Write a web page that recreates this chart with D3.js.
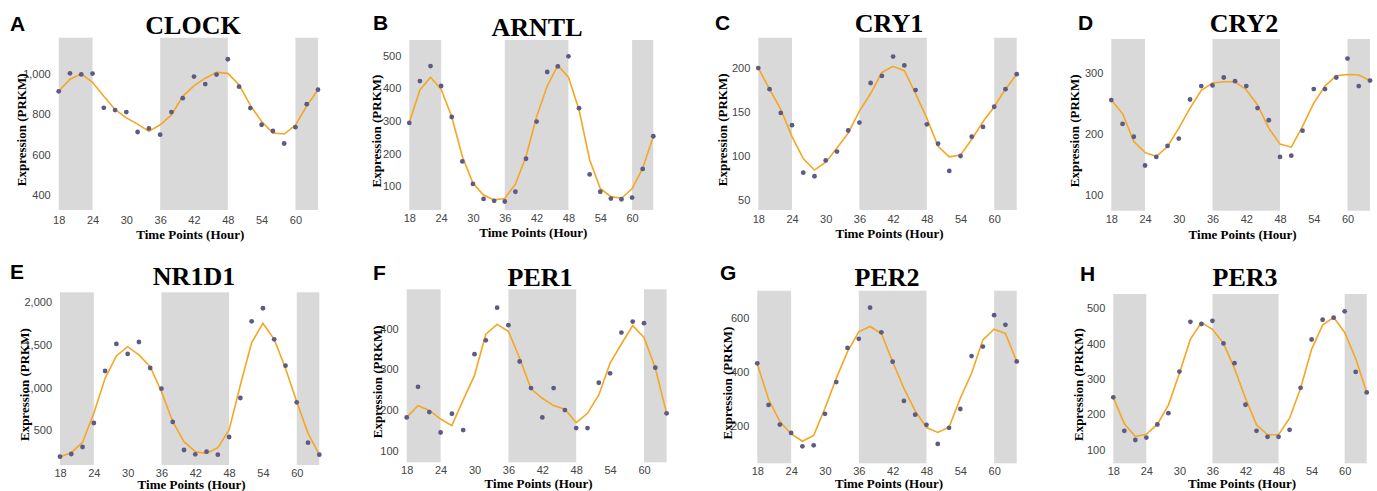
<html>
<head>
  <style>
    body { margin: 0; background: #fff; }
    svg { display: block; }
  </style>
</head>
<body>
  <svg width="1377" height="491"></svg>
  <script src="https://d3js.org/d3.v7.min.js"></script>
  <script>

  // time points, hours
  var hours = [18,20,22,24,26,28,30,32,34,36,38,40,42,44,46,48,50,52,54,56,58,60,62,64];
  var hourTicks = [18,24,30,36,42,48,54,60];
  // dark phases shaded in grey
  var darkBands = [[18,24],[36,48],[60,64]];

  var clockObs = [914,1003,998,1002,832,821,811,712,730,699,811,880,987,950,997,1073,937,831,748,717,655,736,850,922];
  var clockFit = [914,974,1000,959,889,824,782,751,715,748,797,889,941,979,1008,1003,946,844,764,707,702,746,841,922];
  var arntlObs = [294,422,468,407,312,176,107,61,55,53,83,184,298,450,467,498,339,136,83,62,60,65,153,253];
  var arntlFit = [295,395,434,397,313,191,109,73,58,62,106,191,313,407,470,434,334,181,93,68,63,92,155,252];
  var cry1Obs = [200,176,149,135,81,77,95,105,129,138,183,191,213,203,175,136,114,83,100,122,133,156,176,193];
  var cry1Fit = [200,176,153,122,97,84,93,109,126,151,171,195,202,197,171,143,111,99,101,119,139,156,176,193];
  var cry2Obs = [256,217,196,149,163,181,193,257,279,280,293,287,279,243,223,163,165,206,274,274,293,324,279,288];
  var cry2Fit = [256,234,188,170,164,180,210,243,272,284,286,286,273,248,210,184,179,213,251,279,296,298,297,288];
  var nr1d1Obs = [191,223,305,586,1195,1512,1395,1535,1230,988,598,270,219,250,215,422,879,1777,1930,1566,1258,828,355,215];
  var nr1d1Fit = [191,238,359,699,1109,1371,1480,1383,1246,953,602,367,250,230,297,504,1031,1527,1754,1566,1227,836,465,215];
  var per1Obs = [182,257,195,145,191,151,337,371,451,408,319,254,182,254,200,156,156,267,290,390,417,413,304,192];
  var per1Fit = [182,211,199,178,162,225,285,386,410,393,327,252,229,211,202,169,192,237,315,362,407,378,303,192];
  var per2Obs = [433,278,205,174,124,128,245,363,490,524,640,548,439,293,242,204,133,193,263,460,495,612,576,440];
  var per2Fit = [430,299,216,170,143,165,266,377,476,550,570,544,439,340,256,194,176,195,303,396,520,560,544,440];
  var per3Obs = [248,153,127,134,171,203,321,462,456,465,401,345,227,153,136,136,156,275,412,468,474,492,320,262];
  var per3Fit = [248,173,137,143,172,226,316,413,460,441,401,330,245,170,142,142,189,274,384,453,475,432,358,262];

  var panels = [
    {letter:"A", gene:"CLOCK", obs:clockObs, fit:clockFit, yDom:[325,1180], yTicks:[400,600,800,1000],
     x0:58.7, x1:318, top:37.7, bot:210, titleX:193, titleY:34, letX:10, letY:31, ytX:22, axY:235, pad:6},
    {letter:"B", gene:"ARNTL", obs:arntlObs, fit:arntlFit, yDom:[27,548], yTicks:[100,200,300,400,500],
     x0:409.3, x1:653.3, top:40, bot:210, titleX:537, titleY:36, letX:373, letY:30, ytX:377, axY:233, pad:4},
    {letter:"C", gene:"CRY1", obs:cry1Obs, fit:cry1Fit, yDom:[38.6,234.5], yTicks:[50,100,150,200],
     x0:758.3, x1:1016.7, top:37.7, bot:210, titleX:889, titleY:32, letX:715, letY:30, ytX:723, axY:233.5, pad:5},
    {letter:"D", gene:"CRY2", obs:cry2Obs, fit:cry2Fit, yDom:[75,356], yTicks:[100,200,300],
     x0:1111.3, x1:1370, top:39, bot:210.7, titleX:1244, titleY:32, letX:1078, letY:30, ytX:1075, axY:234.5, pad:5},
    {letter:"E", gene:"NR1D1", obs:nr1d1Obs, fit:nr1d1Fit, yDom:[94,2117], yTicks:[500,1000,1500,2000],
     x0:60, x1:319.3, top:292.3, bot:465, titleX:194, titleY:285, letX:10, letY:279, ytX:25, axY:485, pad:4},
    {letter:"F", gene:"PER1", obs:per1Obs, fit:per1Fit, yDom:[72,496], yTicks:[100,200,300,400],
     x0:406.7, x1:666.6, top:289.3, bot:462.3, titleX:540, titleY:286, letX:373, letY:280, ytX:378, axY:483.5, pad:4},
    {letter:"G", gene:"PER2", obs:per2Obs, fit:per2Fit, yDom:[61,703], yTicks:[200,400,600],
     x0:757.3, x1:1016.7, top:290.7, bot:463.3, titleX:887, titleY:286, letX:720, letY:280, ytX:728, axY:483.5, pad:4},
    {letter:"H", gene:"PER3", obs:per3Obs, fit:per3Fit, yDom:[61,541], yTicks:[100,200,300,400,500],
     x0:1113.3, x1:1366.7, top:294, bot:463.3, titleX:1245, titleY:286, letX:1080, letY:281, ytX:1079, axY:483.5, pad:4}
  ];

  var svg = d3.select("svg");
  var fmt = d3.format(",");

  panels.forEach(function(p) {
    var X = d3.scaleLinear().domain([18, 64]).range([p.x0, p.x1]);
    var Y = d3.scaleLinear().domain(p.yDom).range([p.bot, p.top]);
    var g = svg.append("g");

    g.selectAll("rect.band")
      .data(darkBands)
      .enter()
      .append("rect")
      .attr("x", function(d) {return X(d[0]);})
      .attr("width", function(d) {return X(d[1]) - X(d[0]);})
      .attr("y", p.top)
      .attr("height", p.bot - p.top)
      .style("fill", "#d9d9d9");

    var yAxis = d3.axisLeft(Y).tickValues(p.yTicks).tickFormat(fmt).tickSize(0).tickPadding(8);
    g.append("g")
      .attr("transform", "translate(" + p.x0 + ",0)")
      .call(yAxis)
      .call(function(a) {
        a.select(".domain").remove();
        a.selectAll("text").style("font-family", "Liberation Sans, Arial, sans-serif")
          .style("font-size", "11px").style("fill", "#444");
      });

    var xAxis = d3.axisBottom(X).tickValues(hourTicks).tickSize(0).tickPadding(p.pad);
    g.append("g")
      .attr("transform", "translate(0," + p.bot + ")")
      .call(xAxis)
      .call(function(a) {
        a.select(".domain").remove();
        a.selectAll("text").style("font-family", "Liberation Sans, Arial, sans-serif")
          .style("font-size", "11px").style("fill", "#444");
      });

    var line = d3.line()
      .x(function(d, i) {return X(hours[i]);})
      .y(function(d) {return Y(d);});

    g.append("path")
      .datum(p.fit)
      .attr("d", line)
      .style("fill", "none")
      .style("stroke", "#f5a623")
      .style("stroke-width", 1.6);

    g.selectAll("circle")
      .data(p.obs)
      .enter()
      .append("circle")
      .attr("cx", function(d, i) {return X(hours[i]);})
      .attr("cy", function(d) {return Y(d);})
      .attr("r", 2.4)
      .style("fill", "#5b5b85");

    g.append("text")
      .attr("x", p.titleX).attr("y", p.titleY)
      .attr("text-anchor", "middle")
      .style("font-family", "Liberation Serif, Times New Roman, serif")
      .style("font-weight", "bold").style("font-size", "26px")
      .text(p.gene);

    g.append("text")
      .attr("x", p.letX).attr("y", p.letY)
      .style("font-family", "Liberation Sans, Arial, sans-serif")
      .style("font-weight", "bold").style("font-size", "21px")
      .text(p.letter);

    g.append("text")
      .attr("x", (p.x0 + p.x1) / 2 + 2).attr("y", p.axY + 4)
      .attr("text-anchor", "middle")
      .style("font-family", "Liberation Serif, Times New Roman, serif")
      .style("font-weight", "bold").style("font-size", "13px")
      .text("Time Points (Hour)");

    g.append("text")
      .attr("transform", "translate(" + (p.ytX + 4) + "," + ((p.top + p.bot) / 2 + 6) + ") rotate(-90)")
      .attr("text-anchor", "middle")
      .style("font-family", "Liberation Serif, Times New Roman, serif")
      .style("font-weight", "bold").style("font-size", "13px")
      .text("Expression (PRKM)");
  });

  </script>
</body>
</html>
